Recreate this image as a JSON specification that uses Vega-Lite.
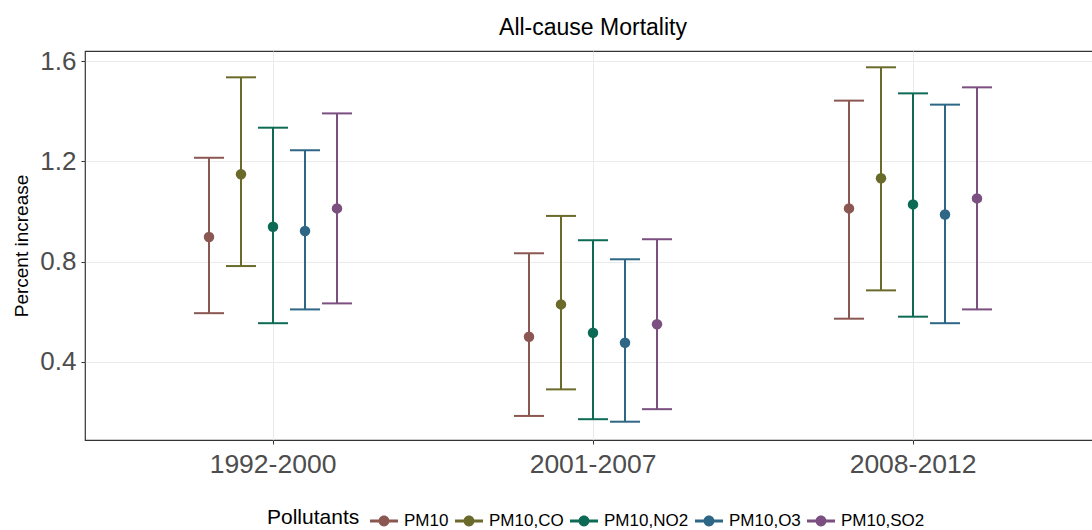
{
  "$schema": "https://vega.github.io/schema/vega-lite/v6.json",
  "width": 1016,
  "height": 389,
  "padding": {"left": 12, "top": 17, "right": 0, "bottom": 0},
  "background": "white",
  "title": {
    "text": "All-cause Mortality",
    "font": "Liberation Sans",
    "fontSize": 23,
    "fontWeight": "normal",
    "color": "#000000",
    "anchor": "middle",
    "offset": 8
  },
  "config": {
    "font": "Liberation Sans",
    "view": {"stroke": "#333333", "strokeWidth": 1.2},
    "axis": {
      "gridColor": "#ebebeb",
      "gridWidth": 1,
      "domain": false,
      "tickColor": "#333333",
      "tickSize": 4,
      "labelColor": "#4d4d4d",
      "labelFont": "Liberation Sans",
      "titleFont": "Liberation Sans",
      "titleFontWeight": "normal",
      "titleColor": "#000000"
    },
    "legend": {
      "labelFont": "Liberation Sans",
      "titleFont": "Liberation Sans"
    }
  },
  "data": {
    "values": [
      {"period": "1992-2000", "pollutant": "PM10", "est": 0.898, "lower": 0.594, "upper": 1.214},
      {"period": "1992-2000", "pollutant": "PM10,CO", "est": 1.148, "lower": 0.782, "upper": 1.535},
      {"period": "1992-2000", "pollutant": "PM10,NO2", "est": 0.939, "lower": 0.554, "upper": 1.334},
      {"period": "1992-2000", "pollutant": "PM10,O3", "est": 0.922, "lower": 0.609, "upper": 1.244},
      {"period": "1992-2000", "pollutant": "PM10,SO2", "est": 1.012, "lower": 0.633, "upper": 1.391},
      {"period": "2001-2007", "pollutant": "PM10", "est": 0.5, "lower": 0.184, "upper": 0.833},
      {"period": "2001-2007", "pollutant": "PM10,CO", "est": 0.629, "lower": 0.29, "upper": 0.982},
      {"period": "2001-2007", "pollutant": "PM10,NO2", "est": 0.516, "lower": 0.171, "upper": 0.885},
      {"period": "2001-2007", "pollutant": "PM10,O3", "est": 0.476, "lower": 0.161, "upper": 0.809},
      {"period": "2001-2007", "pollutant": "PM10,SO2", "est": 0.55, "lower": 0.211, "upper": 0.889},
      {"period": "2008-2012", "pollutant": "PM10", "est": 1.012, "lower": 0.572, "upper": 1.442},
      {"period": "2008-2012", "pollutant": "PM10,CO", "est": 1.132, "lower": 0.685, "upper": 1.575},
      {"period": "2008-2012", "pollutant": "PM10,NO2", "est": 1.028, "lower": 0.58, "upper": 1.471},
      {"period": "2008-2012", "pollutant": "PM10,O3", "est": 0.988, "lower": 0.554, "upper": 1.426},
      {"period": "2008-2012", "pollutant": "PM10,SO2", "est": 1.052, "lower": 0.609, "upper": 1.495}
    ]
  },
  "encoding": {
    "x": {
      "field": "period",
      "type": "nominal",
      "scale": {"paddingInner": 0.5, "paddingOuter": 0.3375},
      "axis": {
        "title": null,
        "labelAngle": 0,
        "labelFontSize": 26.5,
        "labelPadding": 7,
        "grid": true,
        "bandPosition": 0.5
      }
    },
    "xOffset": {"field": "pollutant", "type": "nominal", "sort": ["PM10", "PM10,CO", "PM10,NO2", "PM10,O3", "PM10,SO2"]},
    "color": {
      "field": "pollutant",
      "type": "nominal",
      "scale": {
        "domain": ["PM10", "PM10,CO", "PM10,NO2", "PM10,O3", "PM10,SO2"],
        "range": ["#8b5752", "#6a6a2b", "#0d6b55", "#2e6686", "#7b4f7f"]
      },
      "legend": {
        "title": "Pollutants",
        "orient": "none",
        "legendX": 182,
        "legendY": 456,
        "direction": "horizontal",
        "titleOrient": "left",
        "titleAnchor": "middle",
        "titleBaseline": "middle",
        "titleFontSize": 21,
        "titleFontWeight": "normal",
        "titleColor": "#000000",
        "titlePadding": 10,
        "labelFontSize": 17,
        "labelColor": "#000000",
        "labelOffset": 6,
        "symbolType": "M-1,-0.1H1V0.1H-1Z M0.39,0A0.39,0.39 0 1,1 -0.39,0A0.39,0.39 0 1,1 0.39,0Z",
        "symbolSize": 784,
        "symbolStrokeWidth": 0,
        "symbolOpacity": 1,
        "columnPadding": 6
      }
    }
  },
  "layer": [
    {
      "mark": {"type": "rule", "strokeWidth": 2, "opacity": 1},
      "encoding": {
        "y": {
          "field": "lower",
          "type": "quantitative",
          "scale": {"domain": [0.088, 1.64], "nice": false, "zero": false},
          "axis": {
            "title": "Percent increase",
            "titleFontSize": 19,
            "titlePadding": 8,
            "values": [0.4, 0.8, 1.2, 1.6],
            "format": ".1f",
            "labelFontSize": 26,
            "labelPadding": 5,
            "grid": true
          }
        },
        "y2": {"field": "upper"}
      }
    },
    {
      "mark": {"type": "tick", "thickness": 2, "size": 30, "opacity": 1},
      "encoding": {"y": {"field": "upper", "type": "quantitative"}}
    },
    {
      "mark": {"type": "tick", "thickness": 2, "size": 30, "opacity": 1},
      "encoding": {"y": {"field": "lower", "type": "quantitative"}}
    },
    {
      "mark": {"type": "point", "filled": true, "opacity": 1, "size": 110},
      "encoding": {"y": {"field": "est", "type": "quantitative"}}
    }
  ]
}
